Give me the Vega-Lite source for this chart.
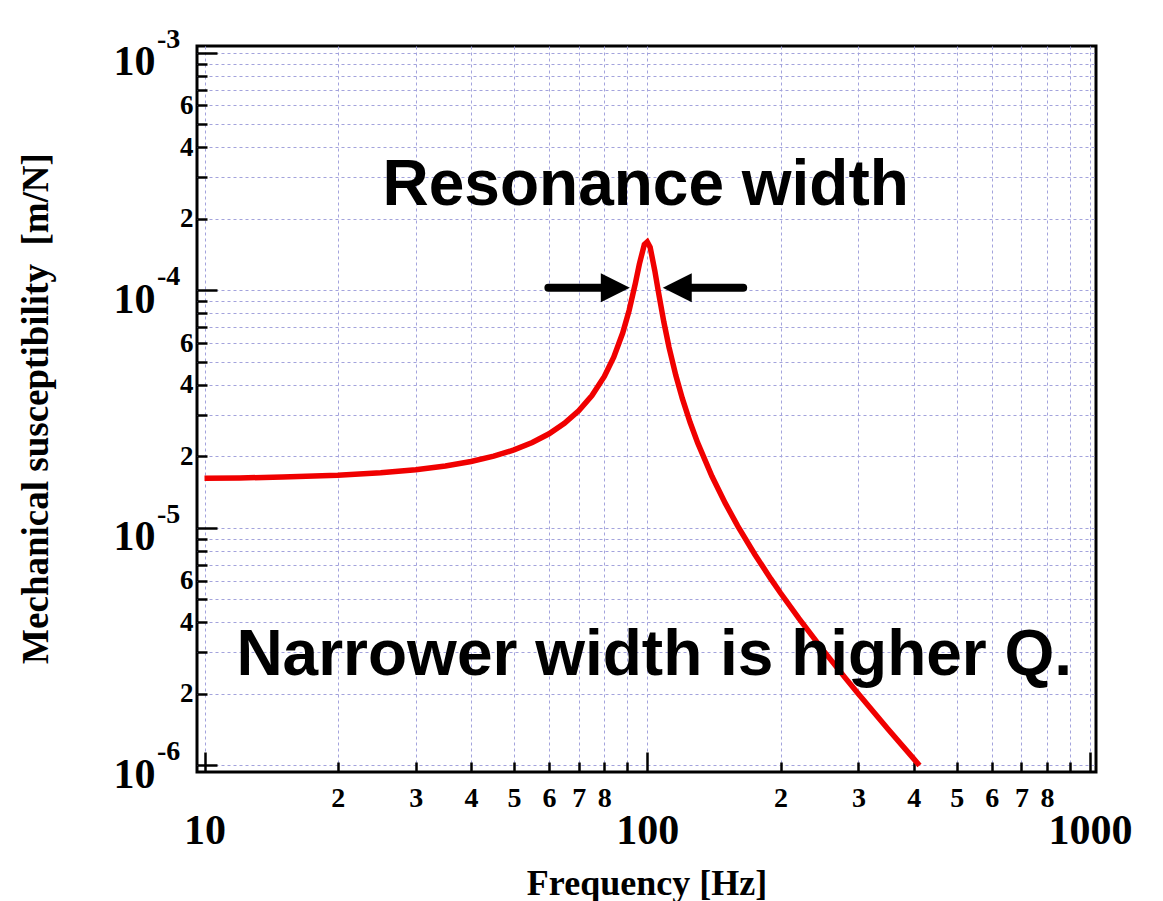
{
  "$schema": "https://vega.github.io/schema/vega-lite/v6.json",
  "width": 899,
  "height": 726,
  "autosize": {"type": "none"},
  "padding": {"left": 197, "top": 46, "right": 67, "bottom": 129},
  "background": "white",
  "config": {
    "view": {"stroke": "black", "strokeWidth": 3},
    "font": "Liberation Serif"
  },
  "datasets": {
    "curve": [
      {"f": 10, "chi": 1.616e-5}, {"f": 12, "chi": 1.623e-5}, {"f": 15, "chi": 1.637e-5},
      {"f": 20, "chi": 1.666e-5}, {"f": 25, "chi": 1.706e-5}, {"f": 30, "chi": 1.757e-5},
      {"f": 35, "chi": 1.822e-5}, {"f": 40, "chi": 1.903e-5}, {"f": 45, "chi": 2.003e-5},
      {"f": 50, "chi": 2.129e-5}, {"f": 55, "chi": 2.287e-5}, {"f": 60, "chi": 2.489e-5},
      {"f": 65, "chi": 2.753e-5}, {"f": 70, "chi": 3.108e-5}, {"f": 75, "chi": 3.605e-5},
      {"f": 80, "chi": 4.338e-5}, {"f": 84, "chi": 5.226e-5}, {"f": 88, "chi": 6.607e-5},
      {"f": 91, "chi": 8.226e-5}, {"f": 94, "chi": 1.069e-4}, {"f": 96, "chi": 1.291e-4},
      {"f": 98.5, "chi": 1.56e-4}, {"f": 100, "chi": 1.6e-4}, {"f": 101.5, "chi": 1.52e-4},
      {"f": 104, "chi": 1.21e-4}, {"f": 106, "chi": 9.826e-5}, {"f": 109, "chi": 7.36e-5},
      {"f": 112, "chi": 5.756e-5}, {"f": 116, "chi": 4.389e-5}, {"f": 120, "chi": 3.508e-5},
      {"f": 125, "chi": 2.777e-5}, {"f": 130, "chi": 2.279e-5}, {"f": 140, "chi": 1.649e-5},
      {"f": 150, "chi": 1.271e-5}, {"f": 160, "chi": 1.02e-5}, {"f": 175, "chi": 7.73e-6},
      {"f": 190, "chi": 6.114e-6}, {"f": 200, "chi": 5.321e-6}, {"f": 220, "chi": 4.16e-6},
      {"f": 250, "chi": 3.044e-6}, {"f": 280, "chi": 2.337e-6}, {"f": 300, "chi": 1.999e-6},
      {"f": 350, "chi": 1.4215e-6}, {"f": 400, "chi": 1.066e-6}, {"f": 412, "chi": 1.0e-6}
    ],
    "arrows": [
      {"f": 59.8, "f2": 80.0, "chi": 1.026e-4, "head": 84.7, "dir": "right"},
      {"f": 124.4, "f2": 164.7, "chi": 1.026e-4, "head": 116.9, "dir": "left"}
    ],
    "notes": [
      {"f": 99.2, "chi": 2.29e-4, "text": "Resonance width"},
      {"f": 103.7, "chi": 2.4e-6, "text": "Narrower width is higher Q."}
    ],
    "exps": [
      {"chi": 1e-3, "exp": "-3"},
      {"chi": 1e-4, "exp": "-4"},
      {"chi": 1e-5, "exp": "-5"},
      {"chi": 1e-6, "exp": "-6"}
    ]
  },
  "layer": [
    {
      "data": {"name": "curve"},
      "mark": {"type": "line", "color": "#f00000", "strokeWidth": 5.5, "clip": true},
      "encoding": {
        "x": {
          "field": "f", "type": "quantitative",
          "scale": {"type": "log", "domain": [9.617, 1031.7], "nice": false, "zero": false},
          "axis": {
            "title": "Frequency [Hz]",
            "titleFont": "Liberation Serif", "titleFontSize": 36, "titleFontWeight": "bold", "titleColor": "black",
            "titleBaseline": "alphabetic", "titleY": 122,
            "values": [10, 20, 30, 40, 50, 60, 70, 80, 90, 100, 200, 300, 400, 500, 600, 700, 800, 900, 1000],
            "labelExpr": "indexof([10,100,1000], datum.value) >= 0 ? ('' + datum.value) : ((datum.value == 90 || datum.value == 900) ? '' : ('' + round(datum.value < 100 ? datum.value / 10 : datum.value / 100)))",
            "labelFont": "Liberation Serif", "labelFontWeight": "bold", "labelColor": "black",
            "labelFontSize": {"condition": {"test": "indexof([10,100,1000], datum.value) >= 0", "value": 42}, "value": 28},
            "labelPadding": {"condition": {"test": "indexof([10,100,1000], datum.value) >= 0", "value": 91}, "value": 44},
            "labelBaseline": "alphabetic",
            "labelOverlap": false, "labelFlush": false, "labelBound": false,
            "domain": false,
            "ticks": true, "tickColor": "black", "tickWidth": 2.5,
            "tickSize": {"condition": {"test": "indexof([10,100,1000], datum.value) >= 0", "value": -20}, "value": -10},
            "grid": true, "gridColor": "#a3a3dc", "gridDash": [3, 3], "gridWidth": 1
          }
        },
        "y": {
          "field": "chi", "type": "quantitative",
          "scale": {"type": "log", "domain": [9.389e-7, 1.0671e-3], "nice": false, "zero": false},
          "axis": {
            "title": "Mechanical susceptibility\u00a0\u00a0[m/N]",
            "titleFont": "Liberation Serif", "titleFontSize": 37, "titleFontWeight": "bold", "titleColor": "black",
            "titleAngle": -90, "titleBaseline": "alphabetic", "titleAlign": "center",
            "titleX": -150, "titleY": 362,
            "values": [1e-6, 2e-6, 3e-6, 4e-6, 5e-6, 6e-6, 7e-6, 8e-6, 9e-6,
                       1e-5, 2e-5, 3e-5, 4e-5, 5e-5, 6e-5, 7e-5, 8e-5, 9e-5,
                       1e-4, 2e-4, 3e-4, 4e-4, 5e-4, 6e-4, 7e-4, 8e-4, 9e-4, 1e-3],
            "labelExpr": "round(datum.value / pow(10, floor(log(datum.value) / LN10 + 1e-6))) == 1 ? '10' : (indexof([2,4,6], round(datum.value / pow(10, floor(log(datum.value) / LN10 + 1e-6)))) >= 0 ? ('' + round(datum.value / pow(10, floor(log(datum.value) / LN10 + 1e-6)))) : '')",
            "labelFont": "Liberation Serif", "labelFontWeight": "bold", "labelColor": "black",
            "labelFontSize": {"condition": {"test": "round(datum.value / pow(10, floor(log(datum.value) / LN10 + 1e-6))) == 1", "value": 42}, "value": 27},
            "labelPadding": {"condition": {"test": "round(datum.value / pow(10, floor(log(datum.value) / LN10 + 1e-6))) == 1", "value": 62}, "value": 14},
            "labelOffset": {"condition": {"test": "round(datum.value / pow(10, floor(log(datum.value) / LN10 + 1e-6))) == 1", "value": 9}, "value": 0},
            "labelBaseline": "middle", "labelAlign": "right",
            "labelOverlap": false, "labelFlush": false, "labelBound": false,
            "domain": false,
            "ticks": true, "tickColor": "black", "tickWidth": 2.5,
            "tickSize": {"condition": {"test": "round(datum.value / pow(10, floor(log(datum.value) / LN10 + 1e-6))) == 1", "value": -20}, "value": -10},
            "grid": true, "gridColor": "#a3a3dc", "gridDash": [3, 3], "gridWidth": 1
          }
        }
      }
    },
    {
      "data": {"name": "arrows"},
      "mark": {"type": "rule", "color": "black", "strokeWidth": 8, "strokeCap": "round"},
      "encoding": {
        "x": {"field": "f", "type": "quantitative"},
        "x2": {"field": "f2"},
        "y": {"field": "chi", "type": "quantitative"}
      }
    },
    {
      "data": {"name": "arrows"},
      "mark": {"type": "point", "filled": true, "color": "black", "opacity": 1, "size": 841},
      "encoding": {
        "x": {"field": "head", "type": "quantitative"},
        "y": {"field": "chi", "type": "quantitative"},
        "shape": {"field": "dir", "type": "nominal", "legend": null,
                  "scale": {"domain": ["right", "left"], "range": ["M-1,-1L1,0L-1,1Z", "M1,-1L-1,0L1,1Z"]}}
      }
    },
    {
      "data": {"name": "notes"},
      "mark": {"type": "text", "font": "Liberation Sans", "fontWeight": "bold", "fontSize": 64, "color": "black", "align": "center", "baseline": "alphabetic"},
      "encoding": {
        "x": {"field": "f", "type": "quantitative"},
        "y": {"field": "chi", "type": "quantitative"},
        "text": {"field": "text"}
      }
    },
    {
      "data": {"name": "exps"},
      "mark": {"type": "text", "font": "Liberation Serif", "fontWeight": "bold", "fontSize": 28, "color": "black", "align": "left", "baseline": "middle", "dx": -40, "dy": -13},
      "encoding": {
        "x": {"datum": 9.617, "type": "quantitative"},
        "y": {"field": "chi", "type": "quantitative"},
        "text": {"field": "exp"}
      }
    }
  ]
}
